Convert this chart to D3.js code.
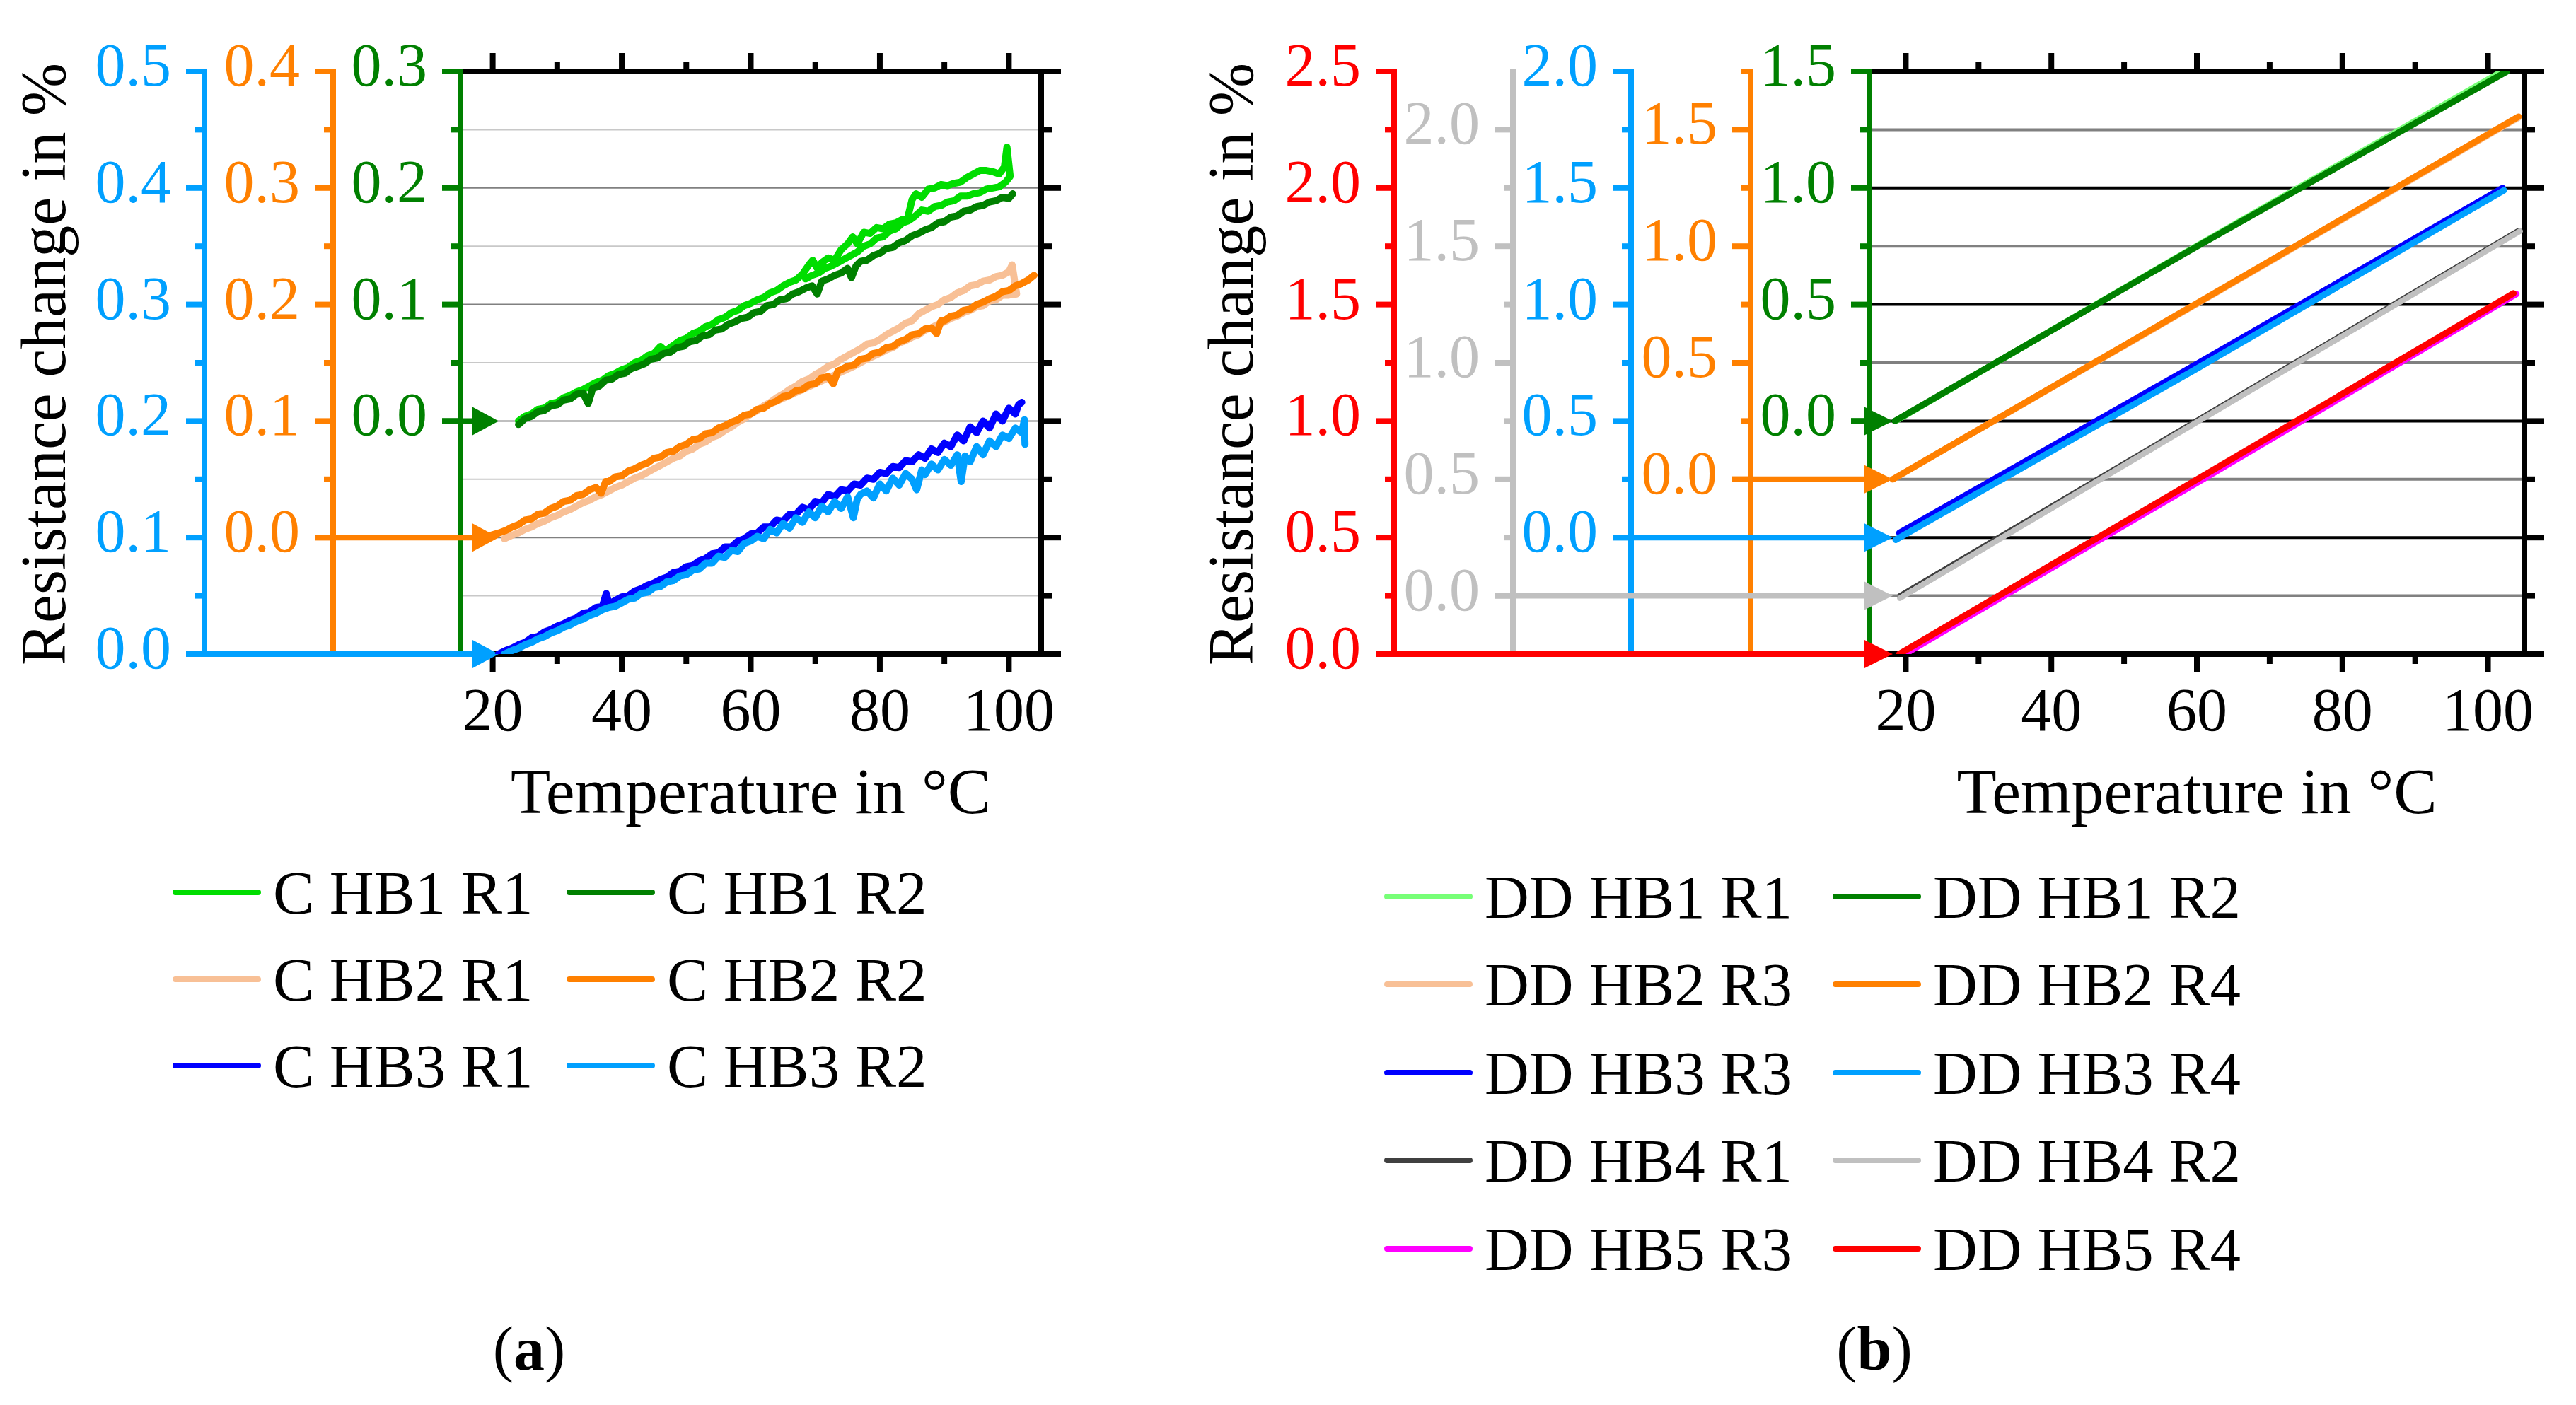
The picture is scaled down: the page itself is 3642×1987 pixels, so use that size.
<!DOCTYPE html>
<html><head><meta charset="utf-8">
<script src="https://cdn.jsdelivr.net/npm/d3@7"></script>
<style>
body{margin:0;background:#fff}
svg{display:block}
text{font-family:"Liberation Serif","Times New Roman",serif}
</style>
</head><body>
<svg id="c" width="3642" height="1987"></svg>
<script>
// ---------------- DATA ----------------
const xMajorTicks = [20, 40, 60, 80, 100];
const xMinorTicks = [30, 50, 70, 90];

// panel (a) axis ticks (own units)
const aBlueTicks = [0, 0.1, 0.2, 0.3, 0.4, 0.5];
const aBlueMinor = [0.05, 0.15, 0.25, 0.35, 0.45];
const aOrangeTicks = [0, 0.1, 0.2, 0.3, 0.4];
const aOrangeMinor = [0.05, 0.15, 0.25, 0.35];
const aGreenTicks = [0, 0.1, 0.2, 0.3];
const aGreenMinor = [0.05, 0.15, 0.25];
const aFrameMajor = [0, 0.1, 0.2, 0.3, 0.4, 0.5];
const aFrameMinor = [0.05, 0.15, 0.25, 0.35, 0.45];

// panel (b) axis ticks (own units)
const bRedTicks = [0, 0.5, 1.0, 1.5, 2.0, 2.5];
const bRedMinor = [0.25, 0.75, 1.25, 1.75, 2.25];
const bGrayTicks = [0, 0.5, 1.0, 1.5, 2.0];
const bGrayMinor = [0.25, 0.75, 1.25, 1.75];
const bBlueTicks = [0, 0.5, 1.0, 1.5, 2.0];
const bBlueMinor = [0.25, 0.75, 1.25, 1.75];
const bOrangeTicks = [0, 0.5, 1.0, 1.5];
const bOrangeMinor = [0.25, 0.75, 1.25, 1.75];
const bGreenTicks = [0, 0.5, 1.0, 1.5];
const bGreenMinor = [0.25, 0.75, 1.25];
const bFrameMajor = [0, 0.5, 1.0, 1.5, 2.0, 2.5];
const bFrameMinor = [0.25, 0.75, 1.25, 1.75, 2.25];

// panel (a) series: [temperature °C, resistance change % on own axis]
const C_HB1_R1 = [[24,0.000],[25,0.004],[26,0.006],[27,0.010],[28,0.011],[29,0.015],[30,0.016],[31,0.020],[32,0.022],[33,0.025],[34,0.027],[35,0.030],[36,0.033],[37,0.035],[38,0.039],[39,0.041],[40,0.044],[41,0.046],[42,0.050],[43,0.052],[44,0.056],[45,0.058],[46,0.064],[46.8,0.060],[47.5,0.063],[48,0.065],[49,0.069],[50,0.071],[51,0.075],[52,0.077],[53,0.081],[54,0.083],[55,0.087],[56,0.089],[57,0.093],[58,0.095],[59,0.099],[60,0.101],[61,0.104],[62,0.106],[63,0.110],[64,0.112],[65,0.116],[66,0.119],[67,0.121],[68,0.126],[69,0.134],[69.6,0.138],[70.3,0.131],[71,0.136],[72,0.140],[73,0.138],[74,0.147],[75,0.152],[75.8,0.158],[76.5,0.152],[77.5,0.162],[78.5,0.161],[79.5,0.166],[80.5,0.165],[81.5,0.169],[82.5,0.170],[83.5,0.173],[84.3,0.174],[85,0.190],[85.6,0.195],[86.5,0.192],[87.5,0.199],[88.5,0.200],[89.5,0.203],[90.5,0.202],[91.5,0.204],[92.5,0.205],[93.5,0.209],[94.5,0.212],[95.5,0.215],[96.5,0.215],[97.5,0.214],[98.5,0.212],[99.3,0.218],[99.7,0.235],[100.2,0.210],[99.5,0.205],[98.5,0.201],[97.5,0.200],[96.5,0.199],[95.5,0.196],[94.5,0.195],[93.5,0.193],[92.5,0.193],[91.5,0.189],[90.5,0.188],[89.5,0.185],[88.5,0.184],[87.5,0.180],[86.5,0.181],[85.5,0.176],[84.5,0.172],[83.5,0.170],[82.5,0.165],[81.5,0.163],[80.5,0.158],[79.5,0.157],[78.5,0.152],[77.5,0.150],[76.5,0.145],[75.5,0.142],[74.5,0.139],[73.5,0.136],[72.5,0.133],[71.5,0.131],[70.5,0.127],[69.5,0.125],[68.5,0.122]];
const C_HB1_R2 = [[24,-0.003],[25,0.002],[26,0.004],[27,0.008],[28,0.009],[29,0.013],[30,0.014],[31,0.018],[32,0.019],[33,0.023],[34,0.024],[34.8,0.015],[35.5,0.028],[36.5,0.030],[37.5,0.035],[38.5,0.036],[39.5,0.040],[40.5,0.041],[41.5,0.045],[42.5,0.047],[43.5,0.049],[44.5,0.053],[45.5,0.054],[46.5,0.058],[47.5,0.059],[48.5,0.063],[49.5,0.064],[50.5,0.068],[51.5,0.069],[52.5,0.073],[53.5,0.074],[54.5,0.078],[55.5,0.079],[56.5,0.083],[57.5,0.085],[58.5,0.088],[59.5,0.089],[60.5,0.093],[61.5,0.094],[62.5,0.099],[63.5,0.100],[64.5,0.104],[65.5,0.105],[66.5,0.109],[67.5,0.111],[68.5,0.114],[69.5,0.116],[70.3,0.109],[71,0.120],[72,0.122],[73,0.125],[74,0.127],[75,0.131],[75.6,0.123],[76.3,0.133],[77,0.137],[78,0.138],[79,0.142],[80,0.144],[81,0.148],[82,0.149],[83,0.153],[84,0.155],[85,0.159],[86,0.161],[87,0.164],[88,0.166],[89,0.170],[90,0.171],[91,0.175],[92,0.176],[93,0.180],[94,0.181],[95,0.184],[96,0.185],[97,0.188],[98,0.189],[99,0.192],[100,0.191],[100.6,0.195]];
const C_HB2_R1 = [[21.8,-0.001],[23,0.002],[24,0.004],[25,0.007],[26,0.009],[27,0.012],[28,0.014],[29,0.017],[30,0.019],[31,0.022],[32,0.024],[33,0.027],[34,0.030],[35,0.032],[36,0.035],[37,0.037],[38,0.040],[39,0.043],[40,0.045],[41,0.048],[42,0.051],[43,0.053],[44,0.056],[45,0.059],[46,0.062],[47,0.065],[48,0.068],[49,0.070],[50,0.074],[51,0.076],[52,0.080],[53,0.082],[54,0.086],[55,0.088],[56,0.092],[57,0.095],[58,0.099],[59,0.102],[60,0.106],[61,0.109],[62,0.113],[63,0.116],[64,0.120],[65,0.123],[66,0.127],[67,0.130],[68,0.134],[69,0.136],[70,0.140],[71,0.143],[72,0.147],[73,0.149],[74,0.153],[75,0.156],[76,0.159],[77,0.162],[78,0.166],[79,0.167],[80,0.170],[81,0.174],[82,0.177],[83,0.180],[84,0.184],[85,0.186],[86,0.192],[87,0.195],[88,0.198],[89,0.200],[90,0.204],[91,0.206],[92,0.210],[93,0.212],[94,0.216],[95,0.217],[96,0.220],[97,0.221],[98,0.224],[99,0.225],[100,0.228],[100.5,0.234],[101.2,0.209],[100,0.208],[99,0.208],[98,0.204],[97,0.203],[96,0.199],[95,0.198],[94,0.195],[93,0.193],[92,0.190],[91,0.188],[90,0.185],[89,0.183],[88,0.180],[87,0.178],[86,0.174],[85,0.172],[84,0.169],[83,0.167],[82,0.163],[81,0.161],[80,0.158],[78,0.153],[76,0.147],[74,0.142],[72,0.137],[70,0.132],[68,0.127],[66,0.122],[64,0.117]];
const C_HB2_R2 = [[19.8,0.002],[21,0.004],[22,0.006],[23,0.009],[24,0.011],[25,0.015],[26,0.016],[27,0.020],[28,0.021],[29,0.025],[30,0.027],[31,0.031],[32,0.032],[33,0.036],[34,0.037],[35,0.041],[36,0.043],[36.8,0.038],[37.5,0.048],[38,0.048],[39,0.052],[40,0.053],[41,0.057],[42,0.059],[43,0.062],[44,0.064],[45,0.068],[46,0.069],[47,0.073],[48,0.074],[49,0.078],[50,0.080],[51,0.084],[52,0.085],[53,0.089],[54,0.090],[55,0.094],[56,0.096],[57,0.099],[58,0.101],[59,0.105],[60,0.106],[61,0.110],[62,0.111],[63,0.115],[64,0.117],[65,0.121],[66,0.122],[67,0.126],[68,0.127],[69,0.131],[70,0.132],[71,0.137],[72,0.138],[72.8,0.132],[73.5,0.143],[74,0.144],[75,0.147],[76,0.148],[77,0.153],[78,0.154],[79,0.158],[80,0.159],[81,0.163],[82,0.164],[83,0.168],[84,0.170],[85,0.174],[86,0.175],[87,0.179],[88,0.180],[88.8,0.175],[89.5,0.186],[90,0.186],[91,0.190],[92,0.191],[93,0.195],[94,0.196],[95,0.200],[96,0.202],[97,0.205],[98,0.207],[99,0.211],[100,0.212],[101,0.216],[102,0.218],[103,0.221],[103.9,0.225]];
const C_HB3_R1 = [[20.9,0.000],[22,0.003],[23,0.005],[24,0.008],[25,0.010],[26,0.014],[27,0.015],[28,0.019],[29,0.021],[30,0.024],[31,0.026],[32,0.029],[33,0.031],[34,0.035],[35,0.036],[36,0.040],[37,0.041],[37.6,0.052],[38,0.043],[39,0.046],[40,0.049],[41,0.050],[42,0.054],[43,0.056],[44,0.059],[45,0.061],[46,0.064],[47,0.066],[48,0.070],[49,0.071],[50,0.075],[51,0.076],[52,0.080],[53,0.082],[54,0.086],[55,0.087],[56,0.092],[57,0.092],[58,0.097],[59,0.099],[60,0.103],[61,0.104],[62,0.109],[63,0.109],[64,0.115],[65,0.114],[66,0.120],[67,0.120],[68,0.126],[69,0.124],[70,0.131],[71,0.130],[72,0.137],[73,0.135],[74,0.141],[75,0.140],[76,0.146],[77,0.145],[78,0.151],[79,0.150],[80,0.156],[81,0.155],[82,0.161],[83,0.160],[84,0.166],[85,0.165],[86,0.171],[87,0.168],[88,0.176],[89,0.173],[90,0.181],[91,0.178],[92,0.188],[93,0.183],[94,0.195],[95,0.190],[96,0.200],[97,0.194],[98,0.206],[99,0.200],[100,0.211],[101,0.206],[101.5,0.214],[102,0.216]];
const C_HB3_R2 = [[21.8,0.000],[23,0.003],[24,0.005],[25,0.008],[26,0.010],[27,0.013],[28,0.015],[29,0.018],[30,0.020],[31,0.023],[32,0.025],[33,0.028],[34,0.030],[35,0.033],[36,0.035],[37,0.038],[38,0.040],[39,0.041],[40,0.044],[41,0.047],[42,0.048],[43,0.052],[44,0.053],[45,0.057],[46,0.058],[47,0.062],[48,0.063],[49,0.067],[50,0.068],[51,0.072],[52,0.073],[53,0.078],[54,0.078],[55,0.084],[56,0.083],[57,0.089],[58,0.088],[59,0.095],[60,0.097],[61,0.101],[62,0.099],[63,0.107],[64,0.104],[65,0.112],[66,0.108],[67,0.117],[68,0.113],[69,0.122],[70,0.117],[71,0.127],[72,0.122],[73,0.131],[74,0.125],[75,0.135],[75.9,0.117],[76.5,0.133],[77,0.137],[78,0.140],[79,0.134],[80,0.146],[81,0.140],[82,0.151],[83,0.145],[84,0.155],[85,0.150],[85.7,0.141],[86.5,0.158],[87,0.154],[88,0.163],[89,0.158],[90,0.167],[91,0.162],[92,0.171],[92.6,0.148],[93.2,0.170],[94,0.165],[95,0.178],[96,0.171],[97,0.183],[98,0.178],[99,0.188],[100,0.185],[101,0.194],[102,0.190],[102.4,0.201],[102.5,0.180]];

// panel (b) series
const DD_HB1_R1 = [[18.6,0.0],[60,0.752],[102.8,1.515]];
const DD_HB1_R2 = [[18.5,0.0],[60,0.749],[102.6,1.50]];
const DD_HB2_R3 = [[18.2,0.0],[60,0.752],[104.2,1.552]];
const DD_HB2_R4 = [[18.2,0.0],[60,0.755],[104.2,1.556]];
const DD_HB3_R3 = [[19.1,0.02],[60,0.745],[102.0,1.50]];
const DD_HB3_R4 = [[18.6,-0.01],[60,0.725],[102.2,1.49]];
const DD_HB4_R1 = [[19.0,0.005],[60,0.76],[104.2,1.575]];
const DD_HB4_R2 = [[19.2,-0.01],[60,0.745],[104.4,1.565]];
const DD_HB5_R3 = [[19.6,-0.005],[60,0.735],[103.9,1.545]];
const DD_HB5_R4 = [[19.1,0.0],[60,0.749],[103.5,1.548]];

const legendA = [["C HB1 R1","#00dd00"],["C HB1 R2","#008000"],["C HB2 R1","#f8c096"],["C HB2 R2","#ff8000"],["C HB3 R1","#0000ff"],["C HB3 R2","#00a0ff"]];
const legendB = [["DD HB1 R1","#77ff77"],["DD HB1 R2","#008000"],["DD HB2 R3","#f8c096"],["DD HB2 R4","#ff8000"],["DD HB3 R3","#0000ff"],["DD HB3 R4","#00a0ff"],["DD HB4 R1","#404040"],["DD HB4 R2","#c0c0c0"],["DD HB5 R3","#ff00ff"],["DD HB5 R4","#ff0000"]];

// ---------------- DRAW ----------------
const svg = d3.select("#c");
svg.append("rect").attr("width",3642).attr("height",1987).attr("fill","#fff");
const fmt = d3.format(".1f");
let clipId = 0;

function drawPanel(cfg) {
  const g = svg.append("g");
  const x = d3.scaleLinear().domain([15,105]).range([cfg.left, cfg.right]);
  const yBase = d3.scaleLinear().domain(cfg.baseDomain).range([cfg.bottom, cfg.top]);
  const AW = 8;

  // grid
  cfg.frameMinor.forEach(v => g.append("line").attr("x1",cfg.left).attr("x2",cfg.right)
    .attr("y1",yBase(v)).attr("y2",yBase(v)).attr("stroke",cfg.gridMinor).attr("stroke-width",cfg.gridW));
  cfg.frameMajor.filter(v => v>cfg.baseDomain[0] && v<cfg.baseDomain[1]).forEach(v => g.append("line").attr("x1",cfg.left).attr("x2",cfg.right)
    .attr("y1",yBase(v)).attr("y2",yBase(v)).attr("stroke",cfg.gridMajor).attr("stroke-width",cfg.gridW));

  // frame: top, bottom, right
  const fr = g.append("g").attr("stroke","#000").attr("stroke-width",AW);
  fr.append("line").attr("x1",cfg.left).attr("x2",cfg.right+AW/2).attr("y1",cfg.top).attr("y2",cfg.top);
  fr.append("line").attr("x1",cfg.left).attr("x2",cfg.right+AW/2).attr("y1",cfg.bottom).attr("y2",cfg.bottom);
  fr.append("line").attr("x1",cfg.right).attr("x2",cfg.right).attr("y1",cfg.top-AW/2).attr("y2",cfg.bottom+AW/2);
  xMajorTicks.forEach(t => {
    fr.append("line").attr("x1",x(t)).attr("x2",x(t)).attr("y1",cfg.top).attr("y2",cfg.top-26);
    fr.append("line").attr("x1",x(t)).attr("x2",x(t)).attr("y1",cfg.bottom).attr("y2",cfg.bottom+26);
  });
  xMinorTicks.forEach(t => {
    fr.append("line").attr("x1",x(t)).attr("x2",x(t)).attr("y1",cfg.top).attr("y2",cfg.top-14);
    fr.append("line").attr("x1",x(t)).attr("x2",x(t)).attr("y1",cfg.bottom).attr("y2",cfg.bottom+14);
  });
  cfg.frameMajor.forEach(v => fr.append("line").attr("x1",cfg.right).attr("x2",cfg.right+28).attr("y1",yBase(v)).attr("y2",yBase(v)));
  cfg.frameMinor.forEach(v => fr.append("line").attr("x1",cfg.right).attr("x2",cfg.right+15).attr("y1",yBase(v)).attr("y2",yBase(v)));

  // x tick labels
  xMajorTicks.forEach(t => g.append("text").attr("x",x(t)).attr("y",1033).attr("text-anchor","middle")
    .attr("font-size",86).attr("fill","#000").text(t));

  // offset y axes
  cfg.axes.forEach(ax => {
    const ys = d3.scaleLinear().domain([cfg.baseDomain[0]-ax.offset, cfg.baseDomain[1]-ax.offset]).range([cfg.bottom, cfg.top]);
    const ag = g.append("g").attr("stroke",ax.color).attr("stroke-width",AW);
    ag.append("line").attr("x1",ax.x).attr("x2",ax.x).attr("y1",cfg.top-AW/2).attr("y2",cfg.bottom+AW/2);
    ax.major.forEach(v => ag.append("line").attr("x1",ax.x-26).attr("x2",ax.x).attr("y1",ys(v)).attr("y2",ys(v)));
    ax.minor.forEach(v => ag.append("line").attr("x1",ax.x-13).attr("x2",ax.x).attr("y1",ys(v)).attr("y2",ys(v)));
    ax.major.forEach(v => g.append("text").attr("x",ax.x-47).attr("y",ys(v)+20).attr("text-anchor","end")
      .attr("font-size",86).attr("fill",ax.color).text(fmt(v)));
    ax.ys = ys;
  });
  // zero lines with arrowheads
  cfg.axes.forEach(ax => {
    const y0 = ax.ys(0);
    g.append("line").attr("x1",ax.x-26).attr("x2",cfg.arrowBase+2).attr("y1",y0).attr("y2",y0)
      .attr("stroke",ax.color).attr("stroke-width",AW);
    g.append("path").attr("d",`M${cfg.arrowBase},${y0-20}L${cfg.arrowTip},${y0}L${cfg.arrowBase},${y0+20}Z`).attr("fill",ax.color);
  });

  // data
  const cid = "clip"+(clipId++);
  svg.append("clipPath").attr("id",cid).append("rect")
    .attr("x",cfg.left).attr("y",cfg.top).attr("width",cfg.right-cfg.left).attr("height",cfg.bottom-cfg.top);
  const dg = g.append("g").attr("clip-path",`url(#${cid})`);
  cfg.series.forEach(s => {
    const line = d3.line().x(d => x(d[0])).y(d => yBase(d[1]+s.offset));
    dg.append("path").datum(s.data).attr("d",line).attr("fill","none").attr("stroke",s.color)
      .attr("stroke-width",s.width).attr("stroke-linejoin","round").attr("stroke-linecap","round");
  });

  // titles
  g.append("text").attr("transform",`translate(${cfg.yTitleX},515) rotate(-90)`).attr("text-anchor","middle")
    .attr("font-size",90).attr("fill","#000").text("Resistance change in %");
  g.append("text").attr("x",(cfg.left+cfg.right)/2).attr("y",1150).attr("text-anchor","middle")
    .attr("font-size",92).attr("fill","#000").text("Temperature in °C");

  // legend
  cfg.legend.forEach((d,i) => {
    const col = i%2, row = Math.floor(i/2);
    const lx = cfg.legCols[col], ly = cfg.legRows[row];
    g.append("line").attr("x1",lx).attr("x2",lx+117).attr("y1",ly).attr("y2",ly)
      .attr("stroke",d[1]).attr("stroke-width",8).attr("stroke-linecap","round");
    g.append("text").attr("x",lx+138).attr("y",ly+30).attr("font-size",87).attr("fill","#000").text(d[0]);
  });

  // subcaption
  const sc = g.append("text").attr("x",cfg.capX).attr("y",1937).attr("text-anchor","middle").attr("font-size",88).attr("fill","#000");
  sc.append("tspan").text("(");
  sc.append("tspan").attr("font-weight","bold").text(cfg.cap);
  sc.append("tspan").text(")");
}

drawPanel({
  left:651, right:1472, top:101, bottom:925, baseDomain:[0,0.5],
  frameMajor:aFrameMajor, frameMinor:aFrameMinor, gridMajor:"#808080", gridMinor:"#c8c8c8", gridW:2,
  arrowBase:668, arrowTip:705,
  axes:[
    {color:"#00a0ff", x:289, offset:0, major:aBlueTicks, minor:aBlueMinor},
    {color:"#ff8000", x:471, offset:0.1, major:aOrangeTicks, minor:aOrangeMinor},
    {color:"#008000", x:651, offset:0.2, major:aGreenTicks, minor:aGreenMinor}
  ],
  series:[
    {data:C_HB1_R1, color:"#00dd00", offset:0.2, width:10},
    {data:C_HB1_R2, color:"#008000", offset:0.2, width:10},
    {data:C_HB2_R1, color:"#f8c096", offset:0.1, width:10},
    {data:C_HB2_R2, color:"#ff8000", offset:0.1, width:10},
    {data:C_HB3_R1, color:"#0000ff", offset:0, width:10},
    {data:C_HB3_R2, color:"#00a0ff", offset:0, width:10}
  ],
  yTitleX:92, legend:legendA, legCols:[248,805], legRows:[1262,1385,1507],
  capX:748, cap:"a"
});

drawPanel({
  left:2643, right:3569, top:101, bottom:925, baseDomain:[0,2.5],
  frameMajor:bFrameMajor, frameMinor:bFrameMinor, gridMajor:"#000000", gridMinor:"#808080", gridW:4,
  arrowBase:2636, arrowTip:2676,
  axes:[
    {color:"#ff0000", x:1971, offset:0, major:bRedTicks, minor:bRedMinor},
    {color:"#c0c0c0", x:2139, offset:0.25, major:bGrayTicks, minor:bGrayMinor},
    {color:"#00a0ff", x:2306, offset:0.5, major:bBlueTicks, minor:bBlueMinor},
    {color:"#ff8000", x:2475, offset:0.75, major:bOrangeTicks, minor:bOrangeMinor},
    {color:"#008000", x:2643, offset:1.0, major:bGreenTicks, minor:bGreenMinor}
  ],
  series:[
    {data:DD_HB1_R1, color:"#77ff77", offset:1.0, width:9},
    {data:DD_HB1_R2, color:"#008000", offset:1.0, width:9},
    {data:DD_HB2_R3, color:"#f8c096", offset:0.75, width:9},
    {data:DD_HB2_R4, color:"#ff8000", offset:0.75, width:9},
    {data:DD_HB3_R3, color:"#0000ff", offset:0.5, width:9},
    {data:DD_HB3_R4, color:"#00a0ff", offset:0.5, width:9},
    {data:DD_HB4_R1, color:"#404040", offset:0.25, width:3},
    {data:DD_HB4_R2, color:"#c0c0c0", offset:0.25, width:8},
    {data:DD_HB5_R3, color:"#ff00ff", offset:0, width:9},
    {data:DD_HB5_R4, color:"#ff0000", offset:0, width:9}
  ],
  yTitleX:1771, legend:legendB, legCols:[1961,2595], legRows:[1268,1392,1517,1641,1766],
  capX:2650, cap:"b"
});
</script>
</body></html>
